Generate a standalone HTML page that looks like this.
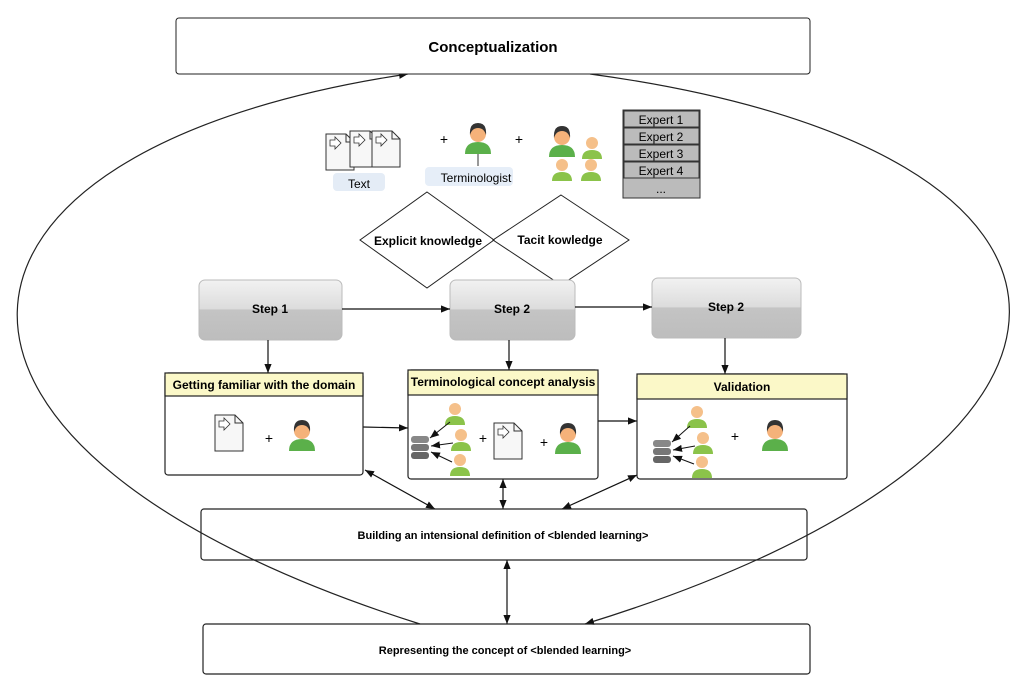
<!DOCTYPE html>
<html><head><meta charset="utf-8"><style>
body{margin:0;background:#fff}
svg{display:block;font-family:"Liberation Sans",sans-serif}
</style></head><body>
<svg width="1024" height="692" viewBox="0 0 1024 692">
<defs>
<marker id="a" viewBox="0 0 10 10" refX="10" refY="5" markerWidth="9" markerHeight="9" orient="auto-start-reverse" markerUnits="userSpaceOnUse"><path d="M0,1 L10,5 L0,9 Z" fill="#111"/></marker>
<linearGradient id="g" x1="0" y1="0" x2="0" y2="1"><stop offset="0" stop-color="#f2f2f2"/><stop offset="0.48" stop-color="#dcdcdc"/><stop offset="0.5" stop-color="#c4c4c4"/><stop offset="1" stop-color="#bdbdbd"/></linearGradient>
<g id="doc"><path d="M0,0 H20 L28,8 V36 H0 Z" fill="#f7f7f7" stroke="#333"/><path d="M20,0 V8 H28" fill="none" stroke="#333"/><path d="M4,6 H9 V3 L15,9 L9,15 V12 H4 Z" fill="#fff" stroke="#333" stroke-width="0.8"/></g>
<g id="p"><circle cx="0" cy="-6" r="8" fill="#f5b27a"/><path d="M-8,-5 Q-9,-17 0,-17 Q9,-17 8,-5 Q6,-12 0,-12 Q-6,-12 -8,-5Z" fill="#333"/><path d="M-13,14 Q-13,2 0,2 Q13,2 13,14 Z" fill="#5bb04a"/></g>
<g id="q"><circle cx="0" cy="-5" r="6" fill="#f5c08a"/><path d="M-10,11 Q-10,2 0,2 Q10,2 10,11 Z" fill="#8bc34a"/></g>
<g id="db"><rect x="-9" y="-12" width="18" height="7" rx="3" fill="#888"/><rect x="-9" y="-4" width="18" height="7" rx="3" fill="#777"/><rect x="-9" y="4" width="18" height="7" rx="3" fill="#666"/></g>
</defs>
<g fill="none" stroke="#222" stroke-width="1.2">
<path d="M420,624 C-130,450 -100,150 408,74" marker-end="url(#a)"/>
<path d="M590,74 C1150,150 1150,450 585,624" marker-end="url(#a)"/>
</g>
<rect x="176" y="18" width="634" height="56" rx="3" fill="#fff" stroke="#222"/>
<text x="493" y="52" text-anchor="middle" font-size="15" font-weight="bold">Conceptualization</text>

<use href="#doc" x="326" y="134"/><use href="#doc" x="350" y="131"/><use href="#doc" x="372" y="131"/>
<rect x="333" y="173" width="52" height="18" rx="4" fill="#e4ecf6"/>
<text x="359" y="188" text-anchor="middle" font-size="12">Text</text>
<text x="444" y="144" text-anchor="middle" font-size="14">+</text>
<use href="#p" x="478" y="140"/>
<line x1="478" y1="154" x2="478" y2="166" stroke="#333"/>
<rect x="425" y="167" width="88" height="19" rx="4" fill="#e6eef8"/>
<text x="476" y="182" text-anchor="middle" font-size="12">Terminologist</text>
<text x="519" y="144" text-anchor="middle" font-size="14">+</text>
<use href="#p" x="562" y="143" transform="scale(1)"/>
<use href="#q" x="592" y="148"/><use href="#q" x="562" y="170"/><use href="#q" x="591" y="170"/>
<g font-size="12" text-anchor="middle">
<rect x="623" y="110" width="77" height="88" fill="#bbb" stroke="#333"/>
<g fill="none" stroke="#333"><rect x="624" y="111" width="75" height="16"/><rect x="624" y="128" width="75" height="16"/><rect x="624" y="145" width="75" height="16"/><rect x="624" y="162" width="75" height="16"/></g>
<text x="661" y="124">Expert 1</text><text x="661" y="141">Expert 2</text><text x="661" y="158">Expert 3</text><text x="661" y="175">Expert 4</text><text x="661" y="193">...</text>
</g>
<g fill="#fff" stroke="#222">
<path d="M427,192 L494,240 L427,288 L360,240 Z"/>
<path d="M561,195 L629,240 L561,285 L493,240 Z" fill="none"/>
</g>
<g font-size="12" font-weight="bold" text-anchor="middle">
<text x="428" y="245">Explicit knowledge</text>
<text x="560" y="244">Tacit kowledge</text>
</g>
<g stroke="#bbb" fill="url(#g)">
<rect x="199" y="280" width="143" height="60" rx="6"/>
<rect x="450" y="280" width="125" height="60" rx="6"/>
<rect x="652" y="278" width="149" height="60" rx="6"/>
</g>
<g font-size="12" font-weight="bold" text-anchor="middle">
<text x="270" y="313">Step 1</text><text x="512" y="313">Step 2</text><text x="726" y="311">Step 2</text>
</g>
<g stroke="#111" stroke-width="1.2" fill="none">
<line x1="342" y1="309" x2="450" y2="309" marker-end="url(#a)"/>
<line x1="575" y1="307" x2="652" y2="307" marker-end="url(#a)"/>
<line x1="268" y1="340" x2="268" y2="373" marker-end="url(#a)"/>
<line x1="509" y1="340" x2="509" y2="370" marker-end="url(#a)"/>
<line x1="725" y1="338" x2="725" y2="374" marker-end="url(#a)"/>
<line x1="363" y1="427" x2="408" y2="428" marker-end="url(#a)"/>
<line x1="598" y1="421" x2="637" y2="421" marker-end="url(#a)"/>
<line x1="365" y1="470" x2="435" y2="509" marker-start="url(#a)" marker-end="url(#a)"/>
<line x1="503" y1="479" x2="503" y2="509" marker-start="url(#a)" marker-end="url(#a)"/>
<line x1="637" y1="475" x2="562" y2="509" marker-start="url(#a)" marker-end="url(#a)"/>
<line x1="507" y1="560" x2="507" y2="624" marker-start="url(#a)" marker-end="url(#a)"/>
</g>
<g stroke="#222" stroke-width="1.2">
<rect x="165" y="373" width="198" height="102" rx="3" fill="#fff"/>
<rect x="165" y="373" width="198" height="23" fill="#fbf8c8"/>
<rect x="408" y="370" width="190" height="109" rx="3" fill="#fff"/>
<rect x="408" y="370" width="190" height="25" fill="#fbf8c8"/>
<rect x="637" y="374" width="210" height="105" rx="3" fill="#fff"/>
<rect x="637" y="374" width="210" height="25" fill="#fbf8c8"/>
</g>
<g font-size="12" font-weight="bold" text-anchor="middle">
<text x="264" y="389">Getting  familiar with the domain</text>
<text x="503" y="386">Terminological concept analysis</text>
<text x="742" y="391">Validation</text>
</g>
<use href="#doc" x="215" y="415"/>
<text x="269" y="443" text-anchor="middle" font-size="14">+</text>
<use href="#p" x="302" y="437"/>
<use href="#db" x="420" y="448"/>
<use href="#q" x="455" y="414"/><use href="#q" x="461" y="440"/><use href="#q" x="460" y="465"/>
<g stroke="#111" fill="none"><line x1="450" y1="422" x2="430" y2="438" marker-end="url(#a)"/><line x1="453" y1="443" x2="431" y2="446" marker-end="url(#a)"/><line x1="452" y1="462" x2="431" y2="452" marker-end="url(#a)"/></g>
<text x="483" y="443" text-anchor="middle" font-size="14">+</text>
<use href="#doc" x="494" y="423"/>
<text x="544" y="447" text-anchor="middle" font-size="14">+</text>
<use href="#p" x="568" y="440"/>
<use href="#db" x="662" y="452"/>
<use href="#q" x="697" y="417"/><use href="#q" x="703" y="443"/><use href="#q" x="702" y="467"/>
<g stroke="#111" fill="none"><line x1="690" y1="426" x2="672" y2="442" marker-end="url(#a)"/><line x1="695" y1="446" x2="673" y2="450" marker-end="url(#a)"/><line x1="694" y1="464" x2="673" y2="456" marker-end="url(#a)"/></g>
<text x="735" y="441" text-anchor="middle" font-size="14">+</text>
<use href="#p" x="775" y="437"/>
<rect x="201" y="509" width="606" height="51" rx="3" fill="none" stroke="#222" stroke-width="1.2"/>
<text x="503" y="539" text-anchor="middle" font-size="11" font-weight="bold">Building an intensional definition of &lt;blended learning&gt;</text>
<rect x="203" y="624" width="607" height="50" rx="3" fill="none" stroke="#222" stroke-width="1.2"/>
<text x="505" y="654" text-anchor="middle" font-size="11" font-weight="bold">Representing the concept of &lt;blended learning&gt;</text>
</svg>
</body></html>
